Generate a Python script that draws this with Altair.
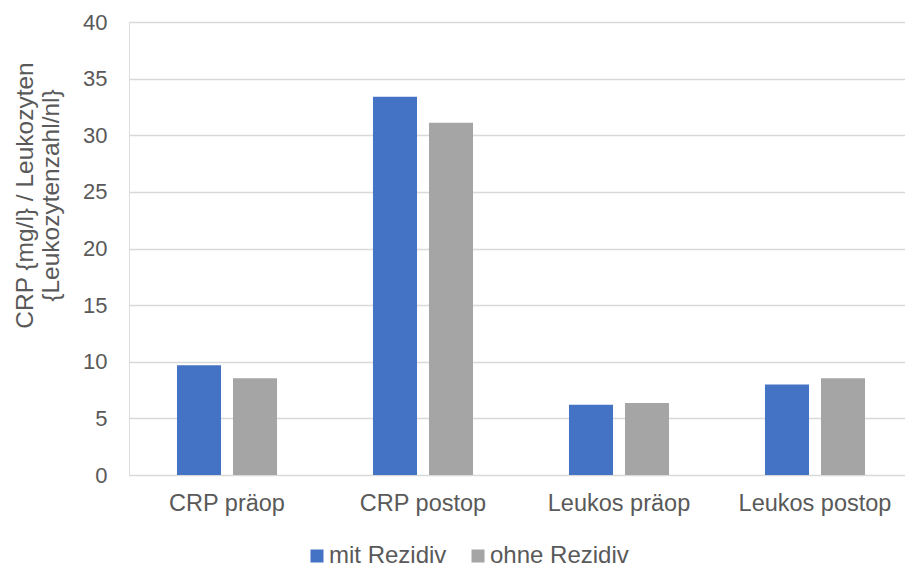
import altair as alt
import pandas as pd

# Mean inflammatory markers by recurrence status
categories = ["CRP präop", "CRP postop", "Leukos präop", "Leukos postop"]
groups = ["mit Rezidiv", "ohne Rezidiv"]
mit_rezidiv = [9.7, 33.4, 6.2, 8.0]
ohne_rezidiv = [8.55, 31.1, 6.35, 8.55]
y_ticks = [0, 5, 10, 15, 20, 25, 30, 35, 40]

rows = []
for cat, a, b in zip(categories, mit_rezidiv, ohne_rezidiv):
    rows.append({"Kategorie": cat, "Gruppe": groups[0], "Wert": a})
    rows.append({"Kategorie": cat, "Gruppe": groups[1], "Wert": b})
df = pd.DataFrame(rows)

FONT = "Liberation Sans"
TEXT = "#595959"

chart = (
    alt.Chart(df)
    .mark_bar()
    .encode(
        x=alt.X(
            "Kategorie:N",
            sort=categories,
            scale=alt.Scale(paddingInner=0, paddingOuter=0, range=[0, 784]),
            axis=alt.Axis(
                title=None,
                labelAngle=0,
                labelFont=FONT,
                labelFontSize=23.5,
                labelColor=TEXT,
                labelPadding=16,
                ticks=False,
                domain=False,
                grid=False,
            ),
        ),
        xOffset=alt.XOffset(
            "Gruppe:N",
            sort=groups,
            scale=alt.Scale(paddingInner=0.214, paddingOuter=0.857),
        ),
        y=alt.Y(
            "Wert:Q",
            scale=alt.Scale(domain=[0, 40], nice=False),
            axis=alt.Axis(
                values=y_ticks,
                title=["CRP {mg/l} / Leukozyten", "{Leukozytenzahl/nl}"],
                titleFont=FONT,
                titleFontSize=24.5,
                titleFontWeight="normal",
                titleColor=TEXT,
                titleAngle=270,
                titleAlign="center",
                titleBaseline="middle",
                titleLineHeight=26,
                titleX=-104,
                titleY=173,
                labelFont=FONT,
                labelFontSize=22,
                labelColor=TEXT,
                labelPadding=22,
                ticks=False,
                domain=False,
                grid=True,
                gridColor="#d9d9d9",
                gridWidth=1.5,
            ),
        ),
        color=alt.Color(
            "Gruppe:N",
            sort=groups,
            scale=alt.Scale(domain=groups, range=["#4472C4", "#A5A5A5"]),
            legend=alt.Legend(
                title=None,
                orient="none",
                direction="horizontal",
                legendX=176,
                legendY=522,
                symbolType="square",
                symbolSize=169,
                symbolStrokeWidth=0,
                labelFont=FONT,
                labelFontSize=24,
                labelColor=TEXT,
                labelOffset=0,
                columnPadding=19,
            ),
        ),
    )
    .properties(width=776, height=453, padding={"left": 129, "top": 22, "right": 0, "bottom": 93})
    .configure_view(stroke=None)
    .configure(autosize=alt.AutoSizeParams(type="none"))
)

chart.save("out.html", embed_options={"renderer": "svg", "actions": False})
